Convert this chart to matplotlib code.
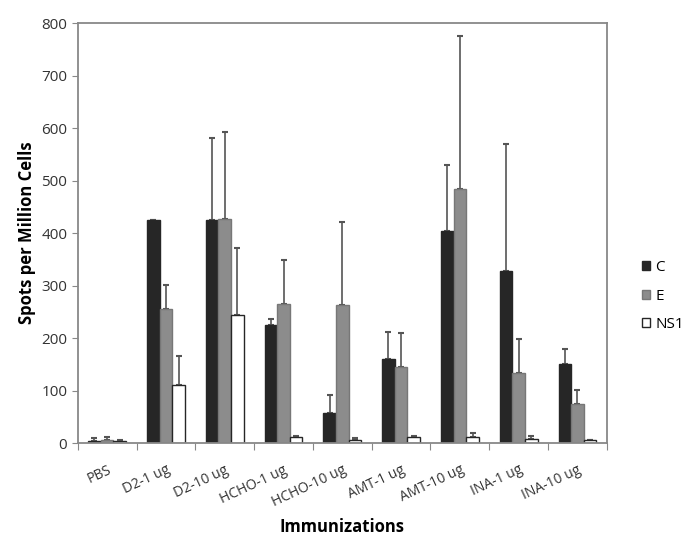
import matplotlib
matplotlib.use("Agg")
import matplotlib.pyplot as plt
import numpy as np

categories = ["PBS", "D2-1 ug", "D2-10 ug", "HCHO-1 ug", "HCHO-10 ug",
              "AMT-1 ug", "AMT-10 ug", "INA-1 ug", "INA-10 ug"]
c_vals = [4, 424, 424, 225, 57, 160, 403, 327, 150]
c_err = [6, 1, 158, 11, 35, 52, 127, 243, 30]
e_vals = [5, 256, 427, 265, 263, 144, 484, 133, 75]
e_err = [6, 46, 166, 84, 158, 66, 292, 66, 26]
n_vals = [4, 111, 244, 11, 6, 11, 12, 8, 5]
n_err = [2, 54, 127, 2, 3, 2, 7, 6, 1]
series_names = ["C", "E", "NS1"]

plt.rcParams['font.family'] = ['Open Sans', 'DejaVu Sans']

fig = plt.figure(figsize=(7, 5.5), dpi=100)
ax = fig.add_axes([0.111, 0.1945, 0.756, 0.7635])

x = np.arange(len(categories))
w = 0.215
colors = ["#262626", "#8c8c8c", "#ffffff"]
edges = ["#262626", "#777777", "#262626"]
errs = [c_err, e_err, n_err]
vals = [c_vals, e_vals, n_vals]
for i, (v, er, col, ed, name) in enumerate(zip(vals, errs, colors, edges, series_names)):
    ax.bar(x + (i - 1) * w, v, width=w, color=col, edgecolor=ed,
           linewidth=1.0, label=name, zorder=2)
    ax.errorbar(x + (i - 1) * w, v, yerr=[np.zeros(len(v)), er], fmt="none",
                ecolor="#555555", elinewidth=1.2, capsize=2.5, capthick=1.5, zorder=1)

ax.set_xlim(-0.5, len(categories) - 0.5)
ax.set_ylim(0, 800)
ax.set_yticks(range(0, 801, 100))
ax.tick_params(axis='y', labelsize=11, colors="#333333", length=4, color="#888888")
ax.set_xticks(np.arange(-0.5, len(categories), 1.0), minor=False)
ax.set_xticklabels([])
ax.set_xticks(x, minor=True)
ax.set_xticklabels(categories, minor=True, rotation=25, ha="right",
                   fontsize=10, color="#333333", rotation_mode="anchor")
ax.tick_params(axis='x', which='major', length=5, color="#888888")
ax.tick_params(axis='x', which='minor', length=0, pad=14)
for s in ax.spines.values():
    s.set_color("#888888")
    s.set_linewidth(1.3)

ax.set_ylabel("Spots per Million Cells", fontsize=12, fontweight="bold", labelpad=4)
ax.set_xlabel("Immunizations", fontsize=12, fontweight="bold", labelpad=6)

ax.legend(loc="center left", bbox_to_anchor=(1.04, 0.35), frameon=False,
          fontsize=11, handlelength=0.55, handleheight=0.55, handletextpad=0.35,
          labelspacing=0.9)

fig.savefig("out.png", dpi=100)
